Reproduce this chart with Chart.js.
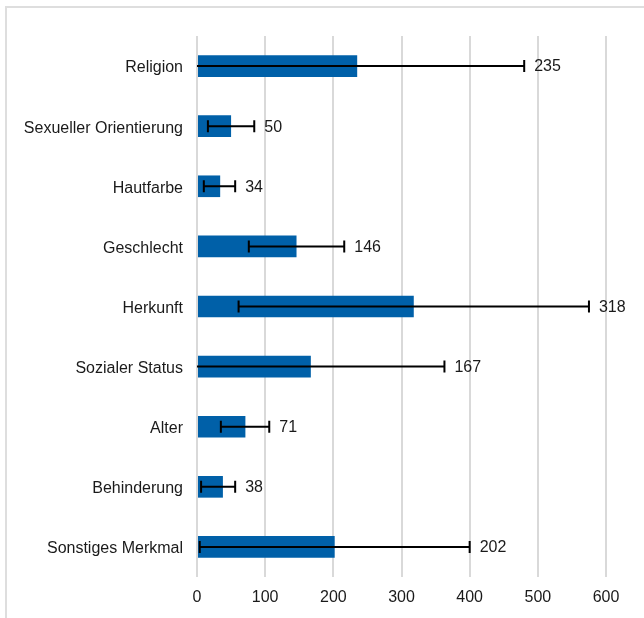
<!DOCTYPE html>
<html>
<head>
<meta charset="utf-8">
<script src="https://cdn.jsdelivr.net/npm/chart.js@4/dist/chart.umd.min.js"></script>
<style>
  html, body { margin: 0; padding: 0; background: #fff; overflow: hidden; }
  #wrap { position: relative; width: 644px; height: 618px; }
  #frame { position: absolute; left: 5px; top: 6px; width: 700px; height: 700px;
           border-left: 2px solid #dedede; border-top: 2px solid #dedede; box-sizing: border-box; }
  canvas { position: absolute; left: 0; top: 0; }
</style>
</head>
<body>
<div id="wrap">
  <div id="frame"></div>
  <canvas id="c" width="644" height="618"></canvas>
</div>
<script>
const categories = ["Religion", "Sexueller Orientierung", "Hautfarbe", "Geschlecht", "Herkunft",
                    "Sozialer Status", "Alter", "Behinderung", "Sonstiges Merkmal"];
const values   = [235, 50, 34, 146, 318, 167, 71, 38, 202];
const errLow   = [-10, 16, 10, 76, 61, -29, 35, 6, 4];
const errHigh  = [480, 84, 56, 216, 575, 363, 106, 56, 400];
const xTicks   = [0, 100, 200, 300, 400, 500, 600];

const FONT = "'Liberation Sans', Arial, sans-serif";
const TEXT = '#1a1a1a';

const errorBarPlugin = {
  id: 'errorBars',
  afterDatasetsDraw(chart) {
    const ctx = chart.ctx;
    const xs = chart.scales.x, meta = chart.getDatasetMeta(0);
    const area = chart.chartArea;
    ctx.save();
    ctx.strokeStyle = '#000';
    ctx.lineWidth = 2;
    meta.data.forEach((bar, i) => {
      const y = bar.y;
      const lo = errLow[i], hi = errHigh[i];
      const x1 = Math.max(xs.getPixelForValue(lo), area.left);
      const x2 = xs.getPixelForValue(hi);
      ctx.beginPath();
      ctx.moveTo(x1, y); ctx.lineTo(x2, y);
      if (lo >= xs.min) { ctx.moveTo(x1, y - 6); ctx.lineTo(x1, y + 6); }
      ctx.moveTo(x2, y - 6); ctx.lineTo(x2, y + 6);
      ctx.stroke();
      // value label
      const xe = Math.max(x2, bar.x);
      ctx.fillStyle = TEXT;
      ctx.font = "16px " + FONT;
      ctx.textAlign = 'left';
      ctx.textBaseline = 'middle';
      ctx.fillText(String(values[i]), xe + 10, y + 1);
    });
    ctx.restore();
  }
};

new Chart(document.getElementById('c'), {
  type: 'bar',
  data: {
    labels: categories,
    datasets: [{
      data: values,
      backgroundColor: '#0060A8',
      borderWidth: 0,
      barPercentage: 0.36,
      categoryPercentage: 1.0
    }]
  },
  options: {
    indexAxis: 'y',
    responsive: false,
    animation: false,
    devicePixelRatio: 1,
    layout: { padding: { top: 36, right: 38, bottom: 0, left: 0 } },
    plugins: { legend: { display: false }, tooltip: { enabled: false } },
    scales: {
      x: {
        min: 0, max: 600,
        afterBuildTicks(scale) { scale.ticks = xTicks.map(v => ({ value: v })); },
        afterFit(scale) { scale.height = 41; },
        grid: { color: '#d9d9d9', lineWidth: 2, drawTicks: false },
        border: { display: false },
        ticks: { color: TEXT, font: { family: FONT, size: 16 }, padding: 11 }
      },
      y: {
        afterFit(scale) { scale.width = 197; },
        grid: { display: false, drawTicks: false },
        border: { display: false },
        ticks: { color: TEXT, font: { family: FONT, size: 16 }, padding: 14, labelOffset: 2 }
      }
    }
  },
  plugins: [errorBarPlugin]
});
</script>
</body>
</html>
